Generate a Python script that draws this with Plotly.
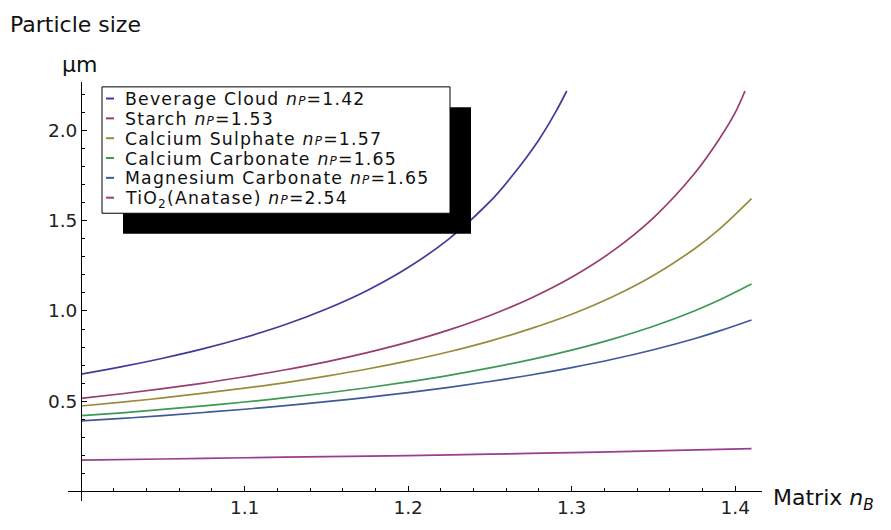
import plotly.graph_objects as go

# ---------------- data ----------------
names = [
    "Beverage Cloud <i>n</i><span style='font-size:12px'><i>P</i></span>=1.42",
    "Starch <i>n</i><span style='font-size:12px'><i>P</i></span>=1.53",
    "Calcium Sulphate <i>n</i><span style='font-size:12px'><i>P</i></span>=1.57",
    "Calcium Carbonate <i>n</i><span style='font-size:12px'><i>P</i></span>=1.65",
    "Magnesium Carbonate <i>n</i><span style='font-size:12px'><i>P</i></span>=1.65",
    "TiO<sub>2</sub>(Anatase) <i>n</i><span style='font-size:12px'><i>P</i></span>=2.54",
]
colors = ["#3F3D99", "#993D71", "#998B3D", "#3D9956", "#3D5A99", "#993D8F"]

x_bev = [1.000, 1.025, 1.050, 1.075, 1.100, 1.125, 1.150, 1.175, 1.200,
         1.225, 1.250, 1.265, 1.280, 1.290, 1.297]
y_bev = [0.650, 0.691, 0.738, 0.791, 0.853, 0.925, 1.011, 1.114, 1.241,
         1.400, 1.606, 1.765, 1.950, 2.100, 2.220]

x_sta = [1.000, 1.025, 1.050, 1.075, 1.100, 1.125, 1.150, 1.175, 1.200, 1.225,
         1.250, 1.275, 1.300, 1.325, 1.350, 1.375, 1.390, 1.400, 1.406]
y_sta = [0.515, 0.541, 0.569, 0.600, 0.635, 0.674, 0.718, 0.769, 0.827, 0.895,
         0.975, 1.071, 1.187, 1.332, 1.517, 1.761, 1.950, 2.100, 2.220]

x_sul = [1.000, 1.025, 1.050, 1.075, 1.100, 1.125, 1.150, 1.175, 1.200,
         1.225, 1.250, 1.275, 1.300, 1.325, 1.350, 1.375, 1.390, 1.410]
y_sul = [0.473, 0.494, 0.518, 0.544, 0.572, 0.603, 0.639, 0.678, 0.723,
         0.774, 0.833, 0.902, 0.982, 1.079, 1.197, 1.344, 1.451, 1.623]

x_cac = [1.000, 1.025, 1.050, 1.075, 1.100, 1.125, 1.150, 1.175, 1.200,
         1.225, 1.250, 1.275, 1.300, 1.325, 1.350, 1.375, 1.390, 1.410]
y_cac = [0.419, 0.435, 0.454, 0.474, 0.495, 0.519, 0.545, 0.574, 0.607,
         0.643, 0.684, 0.730, 0.783, 0.844, 0.915, 1.000, 1.059, 1.149]

x_mgc = [1.000, 1.025, 1.050, 1.075, 1.100, 1.125, 1.150, 1.175, 1.200,
         1.225, 1.250, 1.275, 1.300, 1.325, 1.350, 1.375, 1.390, 1.410]
y_mgc = [0.390, 0.404, 0.420, 0.437, 0.455, 0.475, 0.497, 0.521, 0.547,
         0.576, 0.609, 0.645, 0.686, 0.732, 0.785, 0.846, 0.888, 0.950]

x_tio = [1.00, 1.05, 1.10, 1.15, 1.20, 1.25, 1.30, 1.35, 1.41]
y_tio = [0.173, 0.179, 0.186, 0.192, 0.198, 0.206, 0.214, 0.224, 0.237]

series_x = [x_bev, x_sta, x_sul, x_cac, x_mgc, x_tio]
series_y = [y_bev, y_sta, y_sul, y_cac, y_mgc, y_tio]

x_ticks = [1.1, 1.2, 1.3, 1.4]
x_ticklabels = ["1.1", "1.2", "1.3", "1.4"]
y_ticks = [0.5, 1.0, 1.5, 2.0]
y_ticklabels = ["0.5", "1.0", "1.5", "2.0"]

# ---------------- layout geometry ----------------
W, H = 891, 530
L, R, T, B = 68, 762, 82, 513           # plot area in pixels
XR = [0.992, 1.4164]
YR = [-0.054, 2.27]
FONT = "DejaVu Sans"


def px(xp):
    return (xp - L) / (R - L)


def py(yp):
    return (B - yp) / (B - T)


fig = go.Figure()
for xs, ys, c in zip(series_x, series_y, colors):
    fig.add_trace(go.Scatter(
        x=xs, y=ys, mode="lines",
        line=dict(color=c, width=1.7, shape="spline", smoothing=1.0),
        showlegend=False, hoverinfo="skip"))

x_pos = (1.0 - XR[0]) / (XR[1] - XR[0])
y_pos = (0.0 - YR[0]) / (YR[1] - YR[0])

tickfont = dict(family=FONT, size=18.5, color="#222")

fig.update_layout(
    width=W, height=H,
    margin=dict(l=L, r=W - R, t=T, b=H - B, pad=0),
    paper_bgcolor="white", plot_bgcolor="white",
    font=dict(family=FONT, size=18, color="#222"),
    xaxis=dict(range=XR, anchor="free", position=y_pos,
               showline=True, linecolor="black", linewidth=1,
               showgrid=False, zeroline=False,
               tickmode="array", tickvals=x_ticks, ticktext=x_ticklabels,
               ticks="inside", ticklen=5, tickwidth=1, tickcolor="black",
               minor=dict(ticks="inside", ticklen=3, tickcolor="black",
                          tick0=1.0, dtick=0.02, showgrid=False),
               tickfont=tickfont),
    yaxis=dict(range=YR, anchor="free", position=x_pos,
               showline=True, linecolor="black", linewidth=1,
               showgrid=False, zeroline=False,
               tickmode="array", tickvals=y_ticks, ticktext=y_ticklabels,
               ticks="inside", ticklen=5, tickwidth=1, tickcolor="black",
               minor=dict(ticks="inside", ticklen=3, tickcolor="black",
                          tick0=0.0, dtick=0.1, showgrid=False),
               tickfont=tickfont),
)

# axis titles
fig.add_annotation(x=px(8), y=py(23), xref="paper", yref="paper",
                   text="Particle size", showarrow=False,
                   xanchor="left", yanchor="middle",
                   font=dict(family=FONT, size=22, color="#111"))
fig.add_annotation(x=px(60), y=py(64), xref="paper", yref="paper",
                   text="µm", showarrow=False,
                   xanchor="left", yanchor="middle",
                   font=dict(family=FONT, size=22, color="#111"))
fig.add_annotation(x=px(771), y=py(511), xref="paper", yref="paper",
                   text="Matrix <i>n</i><sub><i>B</i></sub>", showarrow=False,
                   xanchor="left", yanchor="middle",
                   font=dict(family=FONT, size=22, color="#111"))

# legend: shadow + box
fig.add_shape(type="rect", xref="paper", yref="paper", layer="above",
              x0=px(123), x1=px(471), y0=py(238), y1=py(108),
              fillcolor="black", line=dict(color="black", width=0))
fig.add_shape(type="rect", xref="paper", yref="paper", layer="above",
              x0=px(102), x1=px(450), y0=py(217), y1=py(87),
              fillcolor="white", line=dict(color="black", width=1))

row0, drow = 99, 20.4
for i, (nm, c) in enumerate(zip(names, colors)):
    yrow = row0 + i * drow
    fig.add_shape(type="line", xref="paper", yref="paper", layer="above",
                  x0=px(106), x1=px(114), y0=py(yrow), y1=py(yrow),
                  line=dict(color=c, width=2))
    fig.add_annotation(x=px(123), y=py(yrow - 11.8), xref="paper", yref="paper",
                       text="<span style='letter-spacing:1.2px'>" + nm + "</span>",
                       showarrow=False,
                       xanchor="left", yanchor="top",
                       font=dict(family=FONT, size=17.3, color="#111"))

fig.write_html("out.html")
